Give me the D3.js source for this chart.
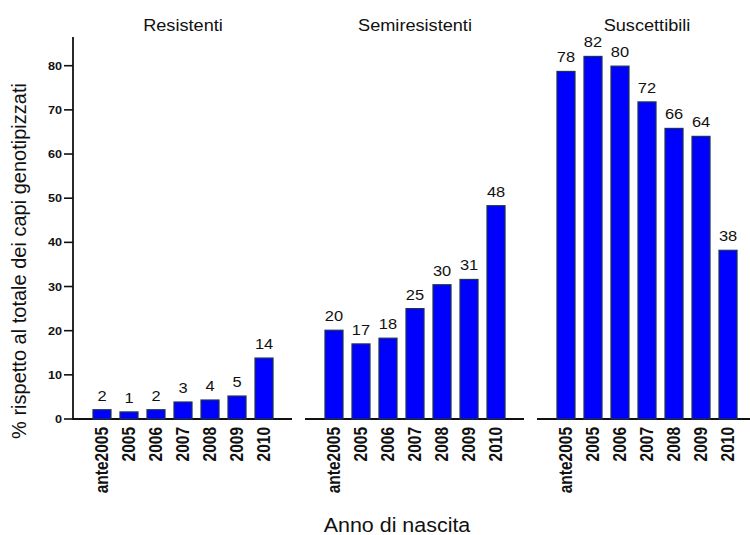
<!DOCTYPE html>
<html><head><meta charset="utf-8">
<script src="https://cdn.jsdelivr.net/npm/d3@7"></script>
<style>body{margin:0;background:#fff}svg{display:block}text{font-family:"Liberation Sans",Arial,sans-serif;fill:#111}</style>
</head><body><svg id="c" width="750" height="535"></svg>
<script>
const categories = ["ante2005","2005","2006","2007","2008","2009","2010"];
const panels = ["Resistenti","Semiresistenti","Suscettibili"];
const resistenti = [2.1,1.6,2.1,3.85,4.3,5.2,13.8];
const semiresistenti = [20.1,17.0,18.3,25.0,30.4,31.6,48.3];
const suscettibili = [78.7,82.1,79.9,71.8,65.8,64.0,38.2];
const labelsRes = ["2","1","2","3","4","5","14"];
const labelsSemi = ["20","17","18","25","30","31","48"];
const labelsSusc = ["78","82","80","72","66","64","38"];
const yTicks = [0,10,20,30,40,50,60,70,80];
const yTitle = "% rispetto al totale dei capi genotipizzati";
const xTitle = "Anno di nascita";

const series = [resistenti, semiresistenti, suscettibili];
const labels = [labelsRes, labelsSemi, labelsSusc];

const svg = d3.select("#c");
const y = d3.scaleLinear().domain([0, 86.5]).range([419, 37]);
const pw = 220;
const panelStarts = [73, 305, 537];

function stext(g, x, y0, s, size, sx, anchor, rot, weight) {
  const t = g.append("text")
    .attr("transform", `translate(${x},${y0}) scale(${sx},1)` + (rot ? ` rotate(${rot})` : ""))
    .attr("font-size", size)
    .attr("text-anchor", anchor || "middle")
    .text(s);
  if (weight) t.attr("font-weight", weight);
  return t;
}

// Y axis
const yAxis = svg.append("g");
yAxis.append("line").attr("x1",73).attr("x2",73).attr("y1",y(86.5)).attr("y2",y(0)+1).attr("stroke","#111").attr("stroke-width",1.8);
yTicks.forEach(v => {
  yAxis.append("line").attr("x1",64).attr("x2",73).attr("y1",y(v)).attr("y2",y(v)).attr("stroke","#111").attr("stroke-width",1.6);
  stext(yAxis, 62, y(v)+4, String(v), 11, 1.15, "end", 0, "bold");
});

panels.forEach((p, i) => {
  const x0 = panelStarts[i];
  const g = svg.append("g");
  const x = d3.scaleBand().domain(categories).range([x0, x0 + pw]).paddingInner(1/3).paddingOuter(0.74);
  const end = i === 2 ? 750 : x0 + pw - 1;
  g.append("line").attr("x1", x0).attr("x2", end).attr("y1", y(0)).attr("y2", y(0)).attr("stroke","#111").attr("stroke-width",1.8);
  categories.forEach((c, j) => {
    const v = series[i][j];
    g.append("rect").attr("x", x(c)).attr("width", x.bandwidth()).attr("y", y(v)).attr("height", y(0) - y(v))
      .attr("fill","#0000ff").attr("stroke","#1d3350").attr("stroke-width",1.2);
    stext(g, x(c) + x.bandwidth()/2, y(v) - 9, labels[i][j], 15.5, 1.06, "middle");
    stext(g, x(c) + x.bandwidth()/2 + 6, y(0) + 8, c, 15.5, 1.2, "end", -90, "bold");
  });
  stext(g, x0 + pw/2 + 0, 31, p, 16.5, 1.1, "middle");
});

stext(svg, 397, 532, xTitle, 19.5, 1.1, "middle");
stext(svg, 26, 261, yTitle, 20, 1.0, "middle", -90);
</script></body></html>
